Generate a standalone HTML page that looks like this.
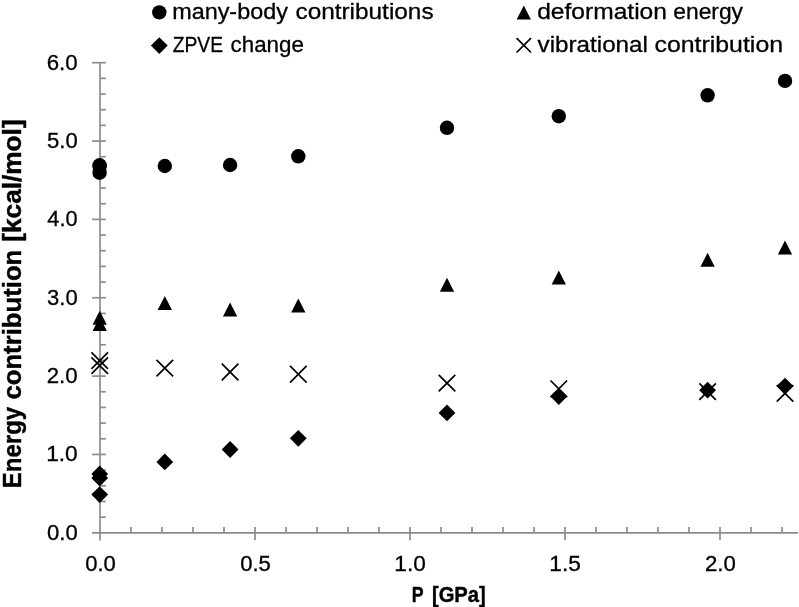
<!DOCTYPE html>
<html lang="en"><head><meta charset="utf-8"><title>Energy contribution vs P</title>
<style>
html,body{margin:0;padding:0;background:#fff;}
body{width:799px;height:607px;overflow:hidden;}
svg{display:block;will-change:transform;}
text{font-family:"Liberation Sans",sans-serif;fill:#000;stroke:#000;stroke-width:0.3px;}
.b{font-weight:bold;stroke-width:0.4px;}
</style></head><body>
<svg width="799" height="607" viewBox="0 0 799 607">
<rect width="799" height="607" fill="#fff"/>
<g stroke="#8c8c8c" stroke-width="1.7" fill="none">
<line x1="100" y1="61.9" x2="100" y2="540.6"/>
<line x1="92" y1="532.8" x2="798" y2="532.8"/>
<line x1="100" y1="517.13" x2="105.8" y2="517.13"/>
<line x1="100" y1="501.46" x2="105.8" y2="501.46"/>
<line x1="100" y1="485.79" x2="105.8" y2="485.79"/>
<line x1="100" y1="470.12" x2="105.8" y2="470.12"/>
<line x1="92" y1="454.45" x2="105.8" y2="454.45"/>
<line x1="100" y1="438.78" x2="105.8" y2="438.78"/>
<line x1="100" y1="423.11" x2="105.8" y2="423.11"/>
<line x1="100" y1="407.44" x2="105.8" y2="407.44"/>
<line x1="100" y1="391.77" x2="105.8" y2="391.77"/>
<line x1="92" y1="376.10" x2="105.8" y2="376.10"/>
<line x1="100" y1="360.43" x2="105.8" y2="360.43"/>
<line x1="100" y1="344.76" x2="105.8" y2="344.76"/>
<line x1="100" y1="329.09" x2="105.8" y2="329.09"/>
<line x1="100" y1="313.42" x2="105.8" y2="313.42"/>
<line x1="92" y1="297.75" x2="105.8" y2="297.75"/>
<line x1="100" y1="282.08" x2="105.8" y2="282.08"/>
<line x1="100" y1="266.41" x2="105.8" y2="266.41"/>
<line x1="100" y1="250.74" x2="105.8" y2="250.74"/>
<line x1="100" y1="235.07" x2="105.8" y2="235.07"/>
<line x1="92" y1="219.40" x2="105.8" y2="219.40"/>
<line x1="100" y1="203.73" x2="105.8" y2="203.73"/>
<line x1="100" y1="188.06" x2="105.8" y2="188.06"/>
<line x1="100" y1="172.39" x2="105.8" y2="172.39"/>
<line x1="100" y1="156.72" x2="105.8" y2="156.72"/>
<line x1="92" y1="141.05" x2="105.8" y2="141.05"/>
<line x1="100" y1="125.38" x2="105.8" y2="125.38"/>
<line x1="100" y1="109.71" x2="105.8" y2="109.71"/>
<line x1="100" y1="94.04" x2="105.8" y2="94.04"/>
<line x1="100" y1="78.37" x2="105.8" y2="78.37"/>
<line x1="92" y1="62.70" x2="105.8" y2="62.70"/>
<line x1="131.00" y1="527" x2="131.00" y2="532.8"/>
<line x1="162.00" y1="527" x2="162.00" y2="532.8"/>
<line x1="193.00" y1="527" x2="193.00" y2="532.8"/>
<line x1="224.00" y1="527" x2="224.00" y2="532.8"/>
<line x1="255.00" y1="527" x2="255.00" y2="540.3"/>
<line x1="286.00" y1="527" x2="286.00" y2="532.8"/>
<line x1="317.00" y1="527" x2="317.00" y2="532.8"/>
<line x1="348.00" y1="527" x2="348.00" y2="532.8"/>
<line x1="379.00" y1="527" x2="379.00" y2="532.8"/>
<line x1="410.00" y1="527" x2="410.00" y2="540.3"/>
<line x1="441.00" y1="527" x2="441.00" y2="532.8"/>
<line x1="472.00" y1="527" x2="472.00" y2="532.8"/>
<line x1="503.00" y1="527" x2="503.00" y2="532.8"/>
<line x1="534.00" y1="527" x2="534.00" y2="532.8"/>
<line x1="565.00" y1="527" x2="565.00" y2="540.3"/>
<line x1="596.00" y1="527" x2="596.00" y2="532.8"/>
<line x1="627.00" y1="527" x2="627.00" y2="532.8"/>
<line x1="658.00" y1="527" x2="658.00" y2="532.8"/>
<line x1="689.00" y1="527" x2="689.00" y2="532.8"/>
<line x1="720.00" y1="527" x2="720.00" y2="540.3"/>
<line x1="751.00" y1="527" x2="751.00" y2="532.8"/>
<line x1="782.00" y1="527" x2="782.00" y2="532.8"/>
</g>
<g font-size="22">
<text x="46.97" y="539.7" font-size="22" textLength="30.72" lengthAdjust="spacingAndGlyphs">0.0</text>
<text x="46.15" y="461.35" font-size="22" textLength="31.56" lengthAdjust="spacingAndGlyphs">1.0</text>
<text x="46.74" y="383.0" font-size="22" textLength="30.95" lengthAdjust="spacingAndGlyphs">2.0</text>
<text x="47.02" y="304.65" font-size="22" textLength="30.66" lengthAdjust="spacingAndGlyphs">3.0</text>
<text x="47.36" y="226.3" font-size="22" textLength="30.31" lengthAdjust="spacingAndGlyphs">4.0</text>
<text x="46.97" y="147.95" font-size="22" textLength="30.72" lengthAdjust="spacingAndGlyphs">5.0</text>
<text x="46.74" y="69.6" font-size="22" textLength="30.95" lengthAdjust="spacingAndGlyphs">6.0</text>
<text x="85.17" y="571.2" font-size="22" textLength="30.61" lengthAdjust="spacingAndGlyphs">0.0</text>
<text x="240.17" y="571.2" font-size="22" textLength="30.67" lengthAdjust="spacingAndGlyphs">0.5</text>
<text x="394.35" y="571.2" font-size="22" textLength="31.45" lengthAdjust="spacingAndGlyphs">1.0</text>
<text x="549.35" y="571.2" font-size="22" textLength="31.51" lengthAdjust="spacingAndGlyphs">1.5</text>
<text x="704.94" y="571.2" font-size="22" textLength="30.85" lengthAdjust="spacingAndGlyphs">2.0</text>
</g>
<text class="b" x="411.86" y="602" font-size="21.5" textLength="11.81" lengthAdjust="spacingAndGlyphs">P</text>
<text class="b" x="431.94" y="602" font-size="21.5" textLength="53.81" lengthAdjust="spacingAndGlyphs">[GPa]</text>
<g transform="translate(21,486.8) rotate(-90)">
<text class="b" x="-1.37" y="0" font-size="25.8" textLength="81.35" lengthAdjust="spacingAndGlyphs">Energy</text>
<text class="b" x="87.22" y="0" font-size="25.8" textLength="149.86" lengthAdjust="spacingAndGlyphs">contribution</text>
<text class="b" x="245.11" y="0" font-size="25.8" textLength="122.30" lengthAdjust="spacingAndGlyphs">[kcal/mol]</text>
</g>
<g fill="#000">
<circle cx="159.30" cy="12.40" r="7.2"/>
<path d="M159.30 37.20L167.70 45.60L159.30 54.00L150.90 45.60Z"/>
<path d="M523.80 5.50L530.95 19.50L516.65 19.50Z"/>
<path d="M516.60 38.10L531.00 52.50M516.60 52.50L531.00 38.10" stroke="#000" stroke-width="1.7" fill="none"/>
</g>
<text x="172.17" y="19.25" font-size="22" textLength="115.72" lengthAdjust="spacingAndGlyphs">many-body</text>
<text x="295.46" y="19.25" font-size="22" textLength="138.14" lengthAdjust="spacingAndGlyphs">contributions</text>
<text x="172.72" y="52.1" font-size="22" textLength="50.33" lengthAdjust="spacingAndGlyphs">ZPVE</text>
<text x="230.55" y="52.1" font-size="22" textLength="73.27" lengthAdjust="spacingAndGlyphs">change</text>
<text x="537.21" y="19.25" font-size="22" textLength="129.76" lengthAdjust="spacingAndGlyphs">deformation</text>
<text x="673.28" y="19.25" font-size="22" textLength="69.73" lengthAdjust="spacingAndGlyphs">energy</text>
<text x="537.63" y="52.1" font-size="22" textLength="110.27" lengthAdjust="spacingAndGlyphs">vibrational</text>
<text x="654.44" y="52.1" font-size="22" textLength="128.63" lengthAdjust="spacingAndGlyphs">contribution</text>
<g fill="#000">
<circle cx="99.60" cy="165.30" r="7.2"/>
<circle cx="99.60" cy="166.60" r="7.2"/>
<circle cx="99.60" cy="172.70" r="7.2"/>
<circle cx="164.80" cy="166.00" r="7.2"/>
<circle cx="230.10" cy="165.00" r="7.2"/>
<circle cx="298.30" cy="156.30" r="7.2"/>
<circle cx="447.00" cy="127.80" r="7.2"/>
<circle cx="558.80" cy="116.20" r="7.2"/>
<circle cx="707.60" cy="95.30" r="7.2"/>
<circle cx="785.00" cy="80.90" r="7.2"/>
<path d="M99.70 310.80L106.85 324.80L92.55 324.80Z"/>
<path d="M99.70 316.90L106.85 330.90L92.55 330.90Z"/>
<path d="M164.80 296.00L171.95 310.00L157.65 310.00Z"/>
<path d="M230.10 302.50L237.25 316.50L222.95 316.50Z"/>
<path d="M298.30 298.50L305.45 312.50L291.15 312.50Z"/>
<path d="M447.00 277.70L454.15 291.70L439.85 291.70Z"/>
<path d="M558.80 270.50L565.95 284.50L551.65 284.50Z"/>
<path d="M707.60 252.80L714.75 266.80L700.45 266.80Z"/>
<path d="M785.00 240.60L792.15 254.60L777.85 254.60Z"/>
<path d="M91.40 352.30L108.00 368.90M91.40 368.90L108.00 352.30" stroke="#000" stroke-width="1.7" fill="none"/>
<path d="M91.40 357.30L108.00 373.90M91.40 373.90L108.00 357.30" stroke="#000" stroke-width="1.7" fill="none"/>
<path d="M156.50 359.80L173.10 376.40M156.50 376.40L173.10 359.80" stroke="#000" stroke-width="1.7" fill="none"/>
<path d="M221.80 363.70L238.40 380.30M221.80 380.30L238.40 363.70" stroke="#000" stroke-width="1.7" fill="none"/>
<path d="M290.00 365.95L306.60 382.55M290.00 382.55L306.60 365.95" stroke="#000" stroke-width="1.7" fill="none"/>
<path d="M438.70 374.80L455.30 391.40M438.70 391.40L455.30 374.80" stroke="#000" stroke-width="1.7" fill="none"/>
<path d="M550.50 380.50L567.10 397.10M550.50 397.10L567.10 380.50" stroke="#000" stroke-width="1.7" fill="none"/>
<path d="M699.30 383.30L715.90 399.90M699.30 399.90L715.90 383.30" stroke="#000" stroke-width="1.7" fill="none"/>
<path d="M776.70 385.10L793.30 401.70M776.70 401.70L793.30 385.10" stroke="#000" stroke-width="1.7" fill="none"/>
<path d="M99.70 465.50L108.10 473.90L99.70 482.30L91.30 473.90Z"/>
<path d="M99.70 469.70L108.10 478.10L99.70 486.50L91.30 478.10Z"/>
<path d="M99.70 486.20L108.10 494.60L99.70 503.00L91.30 494.60Z"/>
<path d="M164.80 453.50L173.20 461.90L164.80 470.30L156.40 461.90Z"/>
<path d="M230.10 441.10L238.50 449.50L230.10 457.90L221.70 449.50Z"/>
<path d="M298.30 429.90L306.70 438.30L298.30 446.70L289.90 438.30Z"/>
<path d="M447.00 404.50L455.40 412.90L447.00 421.30L438.60 412.90Z"/>
<path d="M558.80 388.20L567.20 396.60L558.80 405.00L550.40 396.60Z"/>
<path d="M707.60 381.80L716.00 390.20L707.60 398.60L699.20 390.20Z"/>
<path d="M785.00 377.70L793.40 386.10L785.00 394.50L776.60 386.10Z"/>
</g>
</svg>
</body></html>
